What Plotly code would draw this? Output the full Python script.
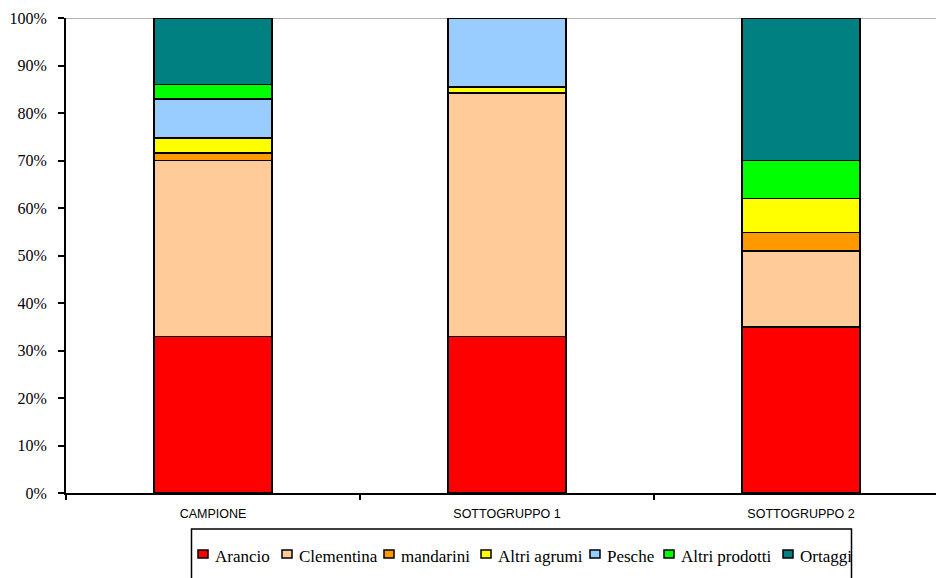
import plotly.graph_objects as go

categories = ["CAMPIONE", "SOTTOGRUPPO 1", "SOTTOGRUPPO 2"]
series_names = ["Arancio", "Clementina", "mandarini", "Altri agrumi",
                "Pesche", "Altri prodotti", "Ortaggi"]
arancio = [33.0, 33.0, 35.0]
clementina = [37.0, 51.2, 16.0]
mandarini = [1.6, 0.0, 3.8]
altri_agrumi = [3.1, 1.3, 7.2]
pesche = [8.2, 14.5, 0.0]
altri_prodotti = [3.1, 0.0, 8.0]
ortaggi = [14.0, 0.0, 30.0]
series_values = [arancio, clementina, mandarini, altri_agrumi,
                 pesche, altri_prodotti, ortaggi]
colors = ["#FF0000", "#FFCC99", "#FF9900", "#FFFF00",
          "#99CCFF", "#00FF00", "#008080"]
y_ticks = [0, 10, 20, 30, 40, 50, 60, 70, 80, 90, 100]
y_tick_labels = [f"{v}%" for v in y_ticks]

W, H = 936, 578
M_L, M_R, M_T, M_B = 66, 0, 18, 85
plot_w = W - M_L - M_R
plot_h = H - M_T - M_B


def px_to_paper_x(px):
    return (px - M_L) / plot_w


def px_to_paper_y(py):
    return (H - M_B - py) / plot_h


fig = go.Figure()
for name, vals, col in zip(series_names, series_values, colors):
    fig.add_trace(go.Bar(
        x=categories, y=vals, name=name, width=0.4,
        marker=dict(color=col, line=dict(color="black", width=1.5)),
        showlegend=False,
    ))

fig.update_layout(
    barmode="stack",
    width=W, height=H,
    margin=dict(l=M_L, r=M_R, t=M_T, b=M_B),
    plot_bgcolor="white", paper_bgcolor="white",
    font=dict(family="Liberation Serif", size=16, color="black"),
    xaxis=dict(
        range=[-0.5, 2.459], showline=True, linecolor="black", linewidth=2,
        ticks="outside", tickson="boundaries", ticklen=5, tickcolor="black",
        tickwidth=2, tickfont=dict(family="Liberation Sans", size=12.5),
        ticklabelstandoff=8, showgrid=False, fixedrange=True,
    ),
    yaxis=dict(
        range=[0, 100], tickvals=y_ticks, ticktext=y_tick_labels,
        showline=True, linecolor="black", linewidth=2,
        ticks="outside", ticklen=6, tickcolor="black", tickwidth=2,
        ticklabelstandoff=8, showgrid=False, zeroline=False,
        tickfont=dict(family="Liberation Serif", size=16),
    ),
)

# light gray reference line at 100%
fig.add_shape(type="line", xref="paper", yref="y", x0=0, x1=1, y0=100, y1=100,
              line=dict(color="#999999", width=1.5), layer="below")

# legend drawn as a single framed row below the axis
legend_left_px = [198, 282, 384, 481, 590, 664, 783]
swatch_w, swatch_h, text_gap = 10, 8, 6
row_center_py = 554
fig.add_shape(type="rect", xref="paper", yref="paper",
              x0=px_to_paper_x(191.5), x1=px_to_paper_x(851.5),
              y0=px_to_paper_y(529), y1=px_to_paper_y(600),
              line=dict(color="black", width=1.5), fillcolor="rgba(0,0,0,0)")
for name, col, lx in zip(series_names, colors, legend_left_px):
    fig.add_shape(type="rect", xref="paper", yref="paper",
                  x0=px_to_paper_x(lx), x1=px_to_paper_x(lx + swatch_w),
                  y0=px_to_paper_y(row_center_py - swatch_h / 2),
                  y1=px_to_paper_y(row_center_py + swatch_h / 2),
                  line=dict(color="black", width=1.5), fillcolor=col)
    fig.add_annotation(text=name, xref="paper", yref="paper",
                       x=px_to_paper_x(lx + swatch_w + text_gap - 1),
                       y=px_to_paper_y(row_center_py + 2),
                       xanchor="left", yanchor="middle", showarrow=False,
                       font=dict(family="Liberation Serif", size=17, color="black"))

fig.write_html("out.html")
